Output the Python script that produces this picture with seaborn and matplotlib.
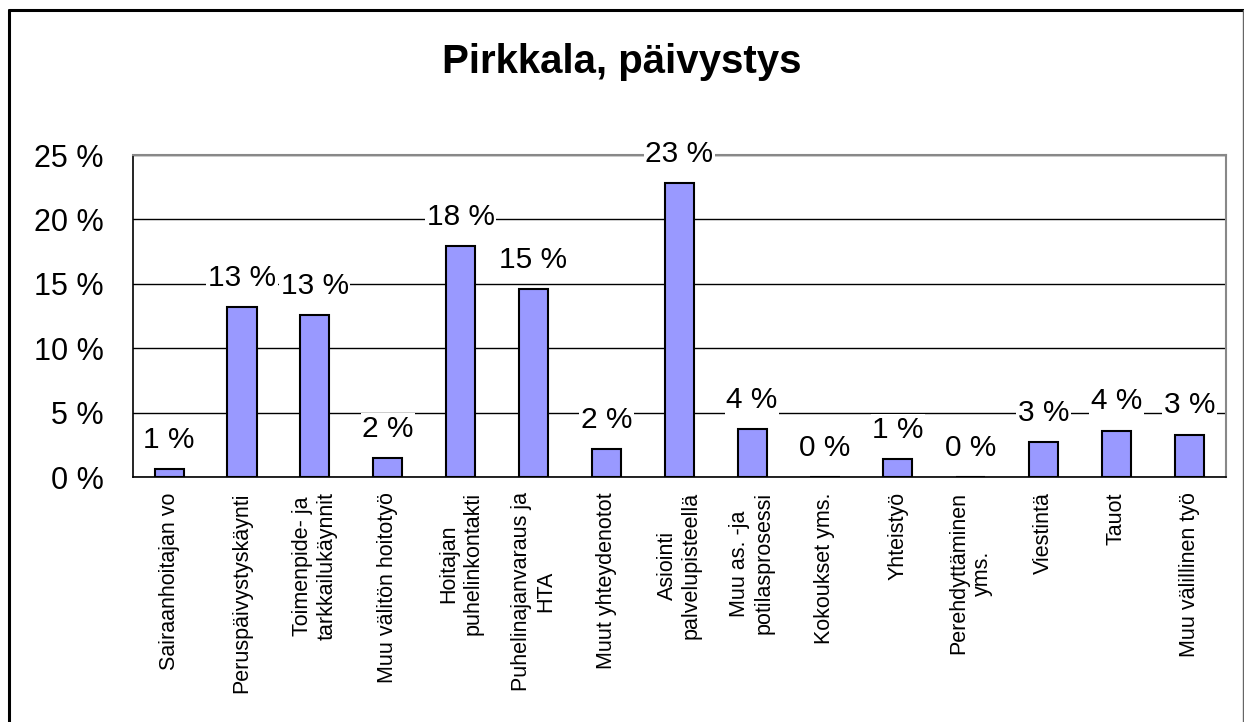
import matplotlib
matplotlib.use("Agg")
import matplotlib.pyplot as plt
import seaborn as sns
import pandas as pd
from matplotlib.lines import Line2D
from matplotlib.ticker import FixedLocator

# data (percent)
categories = [
    "Sairaanhoitajan vo",
    "Peruspäivystyskäynti",
    "Toimenpide- ja\ntarkkailukäynnit",
    "Muu välitön hoitotyö",
    "Hoitajan\npuhelinkontakti",
    "Puhelinajanvaraus ja\nHTA",
    "Muut yhteydenotot",
    "Asiointi\npalvelupisteellä",
    "Muu as. -ja\npotilasprosessi",
    "Kokoukset yms.",
    "Yhteistyö",
    "Perehdyttäminen\nyms.",
    "Viestintä",
    "Tauot",
    "Muu välillinen työ",
]
values = [0.6, 13.2, 12.6, 1.5, 17.9, 14.6, 2.2, 22.8, 3.7, 0.0, 1.4, 0.0, 2.7, 3.6, 3.3]
labels = ["1 %", "13 %", "13 %", "2 %", "18 %", "15 %", "2 %", "23 %", "4 %",
          "0 %", "1 %", "0 %", "3 %", "4 %", "3 %"]
yticks = [0, 5, 10, 15, 20, 25]

df = pd.DataFrame({"kategoria": categories, "osuus": values})

sns.set_style("white")
plt.rcParams["font.family"] = ["Liberation Sans", "DejaVu Sans"]
plt.rcParams["text.color"] = "black"
plt.rcParams["xtick.color"] = "black"
plt.rcParams["ytick.color"] = "black"

fig = plt.figure(figsize=(12.44, 7.22), dpi=100)
# plot area: x 133..1226 px, y 155..477 px
ax = fig.add_axes([0.1067, 0.3393, 0.8786, 0.446])

sns.barplot(data=df, x="kategoria", y="osuus", color="#9999ff", saturation=1,
            edgecolor="black", linewidth=1.5, width=0.4, ax=ax, zorder=3)

ax.set_ylim(0, 25)
ax.set_xlim(-0.5, len(categories) - 0.5)
ax.set_yticks(yticks)
ax.set_yticklabels([f"{t} %" for t in yticks], fontsize=22)
ax.yaxis.grid(True, color="black", linewidth=1, zorder=0)
ax.set_axisbelow(True)
ax.set_xlabel("")
ax.set_ylabel("")

ax.set_xticks(range(len(categories)))
ax.set_xticklabels(categories, rotation=90, fontsize=15.5, va="top", ha="center",
                   multialignment="center")
ax.tick_params(axis="x", which="major", length=0, pad=11)
ax.xaxis.set_minor_locator(FixedLocator([i - 0.5 for i in range(len(categories) + 1)]))
ax.tick_params(axis="x", which="minor", length=6, width=1, color="black", direction="out")
ax.tick_params(axis="y", length=10, width=1, color="black", direction="out", pad=11)

for s in ["top", "right"]:
    ax.spines[s].set_visible(True)
    ax.spines[s].set_color("#888888")
    ax.spines[s].set_linewidth(1.5)
ax.spines["left"].set_color("black")
ax.spines["bottom"].set_color("black")
ax.spines["left"].set_linewidth(1.2)
ax.spines["bottom"].set_linewidth(1.2)

for i, (v, lab) in enumerate(zip(values, labels)):
    ax.annotate(lab, (i, v), xytext=(0, 21), textcoords="offset points",
                ha="center", va="center", fontsize=21.5, zorder=5,
                bbox=dict(boxstyle="square,pad=0.05", fc="white", ec="none"))

fig.text(0.5, 0.914, "Pirkkala, päivystys", ha="center", va="center",
         fontsize=29, fontweight="bold")

# chart frame: left and top black, right thin gray, bottom cut off
fx, fy = 8.5 / 1244, 1 - 9.5 / 722
fig.add_artist(Line2D([fx, fx], [0, fy], transform=fig.transFigure, color="black", lw=2.2))
fig.add_artist(Line2D([fx, 1], [fy, fy], transform=fig.transFigure, color="black", lw=2.2))
fig.add_artist(Line2D([1242.5 / 1244] * 2, [0, fy], transform=fig.transFigure,
                      color="#666666", lw=1))

fig.savefig("out.png", dpi=100)
